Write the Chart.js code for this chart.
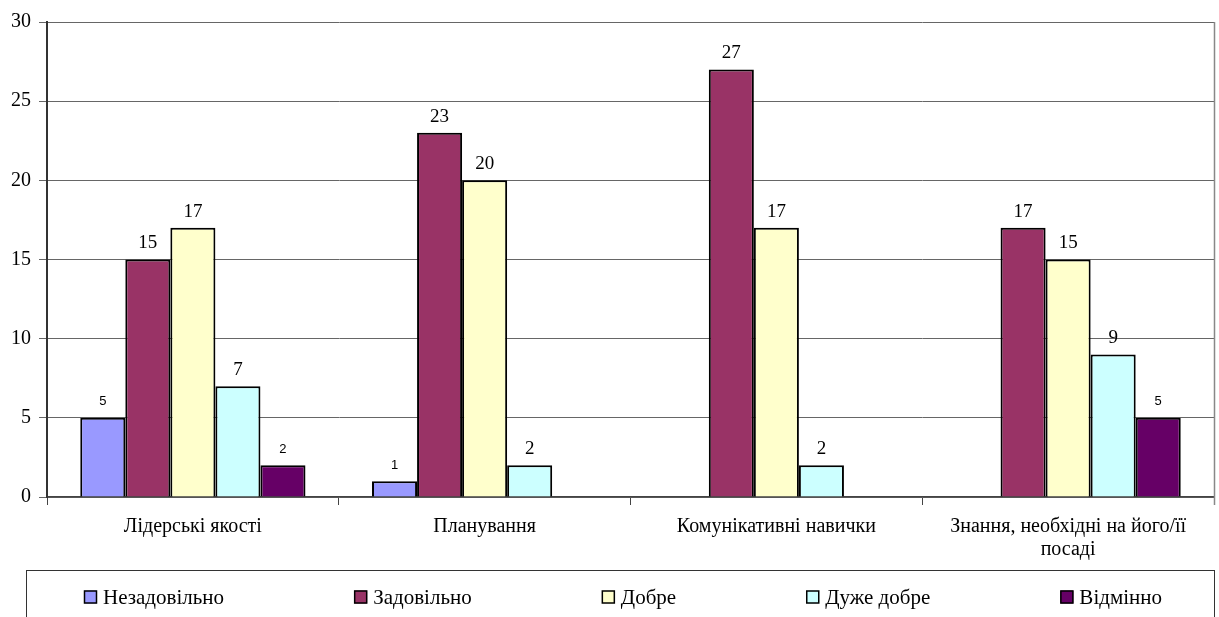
<!DOCTYPE html>
<html>
<head>
<meta charset="utf-8">
<script src="https://cdn.jsdelivr.net/npm/chart.js@4"></script>
<style>
    html, body { margin: 0; padding: 0; background: #fff; }
    #wrap { width: 1219px; height: 617px; position: relative; }
</style>
</head>
<body>
<div id="wrap"><canvas id="skillsChart"></canvas></div>
<script>
const categories = [
    'Лідерські якості',
    'Планування',
    'Комунікативні навички',
    ['Знання, необхідні на його/її', 'посаді']
];
const seriesNames = ['Незадовільно', 'Задовільно', 'Добре', 'Дуже добре', 'Відмінно'];
const unsatisfactory = [5, 1, null, null];
const satisfactory = [15, 23, 27, 17];
const good = [17, 20, 17, 15];
const veryGood = [7, 2, 2, 9];
const excellent = [2, null, null, 5];
const yTicks = [0, 5, 10, 15, 20, 25, 30];

const colors = ['#9999FF', '#993366', '#FFFFCC', '#CCFFFF', '#660066'];
const seriesValues = [unsatisfactory, satisfactory, good, veryGood, excellent];

const serif = '"Liberation Serif", "Times New Roman", serif';
const sans = '"Liberation Sans", Arial, sans-serif';

// value labels above bars; first and last series use the small sans font
const valueLabels = {
    id: 'valueLabels',
    afterDatasetsDraw(chart) {
        const ctx = chart.ctx;
        ctx.save();
        ctx.fillStyle = '#000';
        ctx.textAlign = 'center';
        ctx.textBaseline = 'middle';
        chart.data.datasets.forEach((ds, i) => {
            const meta = chart.getDatasetMeta(i);
            ctx.font = (i === 0 || i === 4) ? '13px ' + sans : '19px ' + serif;
            meta.data.forEach((bar, j) => {
                const v = ds.data[j];
                if (v === null || v === undefined) return;
                ctx.fillText(String(v), bar.x, bar.y - 16);
            });
        });
        ctx.restore();
    }
};

// right border of the plot area and the boxed legend at the bottom
const frameAndLegend = {
    id: 'frameAndLegend',
    afterDraw(chart) {
        const ctx = chart.ctx;
        const area = chart.chartArea;
        ctx.save();
        ctx.strokeStyle = '#888';
        ctx.lineWidth = 1.5;
        ctx.beginPath();
        ctx.moveTo(area.right + 0.5, area.top);
        ctx.lineTo(area.right + 0.5, area.bottom + 8);
        ctx.stroke();

        // legend box
        const boxTop = 570.5;
        ctx.strokeStyle = '#333';
        ctx.lineWidth = 1;
        ctx.strokeRect(26.5, boxTop, 1188, 80);

        ctx.font = '21px ' + serif;
        ctx.textBaseline = 'middle';
        ctx.textAlign = 'left';
        const sq = 13, gapText = 6;
        const widths = seriesNames.map(n => sq + gapText + ctx.measureText(n).width);
        const startX = 84, endX = 1162;
        const total = widths.reduce((a, b) => a + b, 0);
        const gap = (endX - startX - total) / (seriesNames.length - 1);
        const cy = 597;
        let x = startX;
        seriesNames.forEach((name, i) => {
            ctx.fillStyle = colors[i];
            ctx.fillRect(x, cy - sq / 2, sq, sq);
            ctx.strokeStyle = '#000';
            ctx.lineWidth = 1.5;
            ctx.strokeRect(x + 0.5, cy - sq / 2 + 0.5, sq - 1, sq - 1);
            ctx.fillStyle = '#000';
            ctx.fillText(name, x + sq + gapText, cy + 1);
            x += widths[i] + gap;
        });
        ctx.restore();
    }
};

const ctx = document.getElementById('skillsChart').getContext('2d');
new Chart(ctx, {
    type: 'bar',
    data: {
        labels: categories,
        datasets: seriesNames.map((name, i) => ({
            label: name,
            data: seriesValues[i],
            backgroundColor: colors[i],
            borderColor: '#000',
            borderWidth: 2,
            borderSkipped: 'bottom',
            categoryPercentage: 0.772,
            barPercentage: 1.0
        }))
    },
    options: {
        responsive: true,
        maintainAspectRatio: false,
        animation: false,
        devicePixelRatio: 1,
        layout: { padding: { top: 22, right: 5, left: 0, bottom: 0 } },
        plugins: {
            legend: { display: false },
            tooltip: { enabled: false }
        },
        scales: {
            x: {
                afterFit(scale) { scale.height = 120; },
                grid: {
                    display: true,
                    drawOnChartArea: false,
                    drawTicks: true,
                    tickLength: 8,
                    color: '#444',
                    offset: true
                },
                border: { color: '#444', width: 1.5 },
                ticks: {
                    color: '#000',
                    padding: 10,
                    maxRotation: 0,
                    autoSkip: false,
                    font: { family: serif, size: 20, lineHeight: 1.15 }
                }
            },
            y: {
                min: 0,
                max: 30,
                afterFit(scale) { scale.width = 47; },
                afterBuildTicks(scale) { scale.ticks = yTicks.map(v => ({ value: v })); },
                grid: {
                    color: '#666',
                    lineWidth: 1,
                    tickLength: 8
                },
                border: { color: '#333', width: 2 },
                ticks: {
                    color: '#000',
                    padding: 8,
                    font: { family: serif, size: 20 }
                }
            }
        }
    },
    plugins: [valueLabels, frameAndLegend]
});
</script>
</body>
</html>
